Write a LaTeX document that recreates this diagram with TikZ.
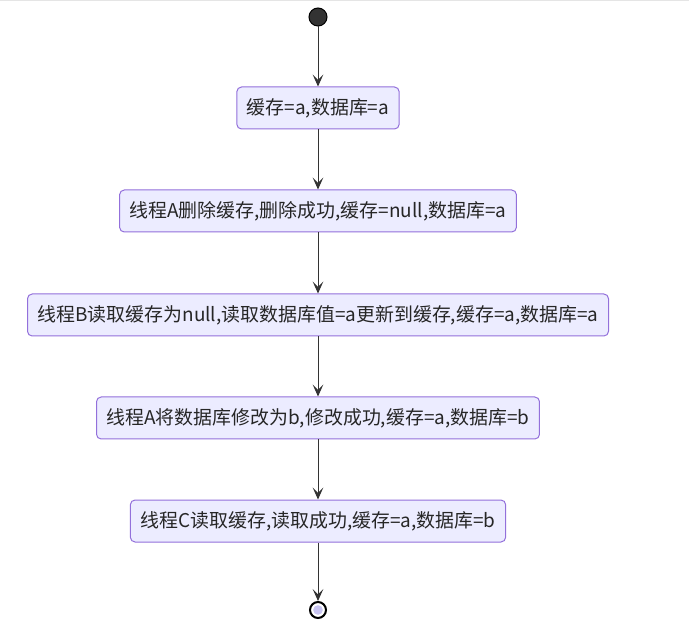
\documentclass[tikz,border=0pt]{standalone}
\usepackage{fontspec}
\setmainfont{Noto Sans CJK SC}
\usetikzlibrary{arrows.meta}
\definecolor{boxfill}{HTML}{ECECFF}
\definecolor{boxdraw}{HTML}{9370DB}
\definecolor{linec}{HTML}{333333}
\definecolor{endfill}{HTML}{C9C5F2}
\begin{document}
\begin{tikzpicture}[x=0.75pt,y=-0.75pt,
  statebox/.style={draw=boxdraw,fill=boxfill,rounded corners=3.5pt,line width=0.75pt,
    minimum height=31.5pt,inner xsep=7.5pt,font=\fontsize{14.2pt}{16pt}\selectfont,text=black!85},
  flow/.style={draw=linec,line width=0.75pt,-{Stealth[length=9pt,width=8pt,inset=4pt]}}]
\useasboundingbox (0,0) rectangle (689,634);
\fill[white] (0,0) rectangle (689,634);
\draw[black!10,line width=0.5pt] (0,0.5) -- (689,0.5);
\node[circle,fill=linec,draw=black,line width=0.75pt,minimum size=13.5pt,inner sep=0] (s) at (318,17) {};
\node[statebox] (b1) at (318,108) {缓存=a,数据库=a};
\node[statebox] (b2) at (318,211) {线程A删除缓存,删除成功,缓存=null,数据库=a};
\node[statebox] (b3) at (318,315) {线程B读取缓存为null,读取数据库值=a更新到缓存,缓存=a,数据库=a};
\node[statebox] (b4) at (318,418) {线程A将数据库修改为b,修改成功,缓存=a,数据库=b};
\node[statebox] (b5) at (318,521) {线程C读取缓存,读取成功,缓存=a,数据库=b};
\node[circle,draw=black,line width=1.5pt,fill=white,minimum size=12pt,inner sep=0] (e) at (318,610) {};
\fill[endfill] (e.center) circle (3.6pt);
\draw[flow] (s) -- (b1);
\draw[flow] (b1) -- (b2);
\draw[flow] (b2) -- (b3);
\draw[flow] (b3) -- (b4);
\draw[flow] (b4) -- (b5);
\draw[flow] (b5) -- (e);
\end{tikzpicture}
\end{document}
